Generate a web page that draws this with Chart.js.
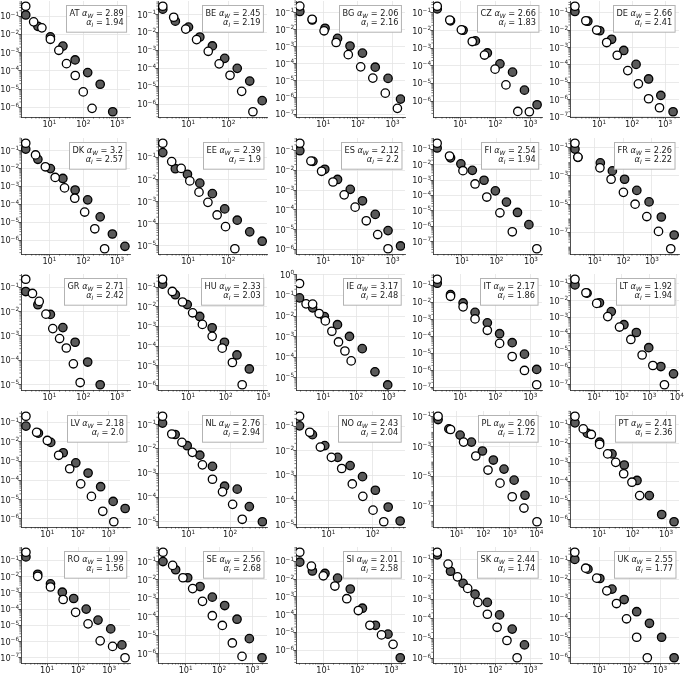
<!DOCTYPE html>
<html><head><meta charset="utf-8">
<script src="https://cdn.jsdelivr.net/npm/chart.js@4.4.1/dist/chart.umd.min.js"></script>
<style>
html,body{margin:0;padding:0;background:#fff;width:685px;height:682px;overflow:hidden}
#wrap{position:relative;width:685px;height:682px;overflow:hidden}
#wrap canvas{position:absolute;display:block}
</style></head><body><div id="wrap"></div>
<script>
const countries = ['AT','BE','BG','CZ','DE','DK','EE','ES','FI','FR','GR','HU','IE','IT','LT','LV','NL','NO','PL','PT','RO','SE','SI','SK','UK'];
const alphaW = ['2.89','2.45','2.06','2.66','2.66','3.2','2.39','2.12','2.54','2.26','2.71','2.33','3.17','2.17','1.92','2.18','2.76','2.43','2.06','2.41','1.99','2.56','2.01','2.44','2.55'];
const alphaI = ['1.94','2.19','2.16','1.83','2.41','2.57','1.9','2.2','1.94','2.22','2.42','2.03','2.48','1.86','1.94','2.0','2.94','2.04','1.72','2.36','1.56','2.68','2.58','1.74','1.77'];
const xLimits = [[1.45,2400],[1.78,912],[1.62,2290],[1.66,2140],[1.32,2630],[1.45,2400],[1.78,912],[1.62,2290],[1.45,2090],[1.34,8900],[1.45,2400],[1.58,1260],[1.45,3160],[1.66,2140],[1.32,12000],[1.38,5000],[1.91,759],[1.86,537],[1.29,16200],[1.32,2450],[1.45,4680],[1.48,2750],[1.58,2510],[1.66,2140],[1.10,4170]];
const yMaxFixed = {IE: 1.1};
const yMinFixed = {BG: 7.1e-8};

const AT_w = [[2.0,3.5e-1],[3.43,4.9e-2],[6.0,2.3e-2],[10.7,5.4e-3],[19,1.35e-3],[32,2.5e-4],[58,5.6e-5],[100,7.1e-6],[182,8.9e-7]];
const AT_g = [[2.0,1.17e-1],[4.57,2.8e-2],[10.7,7.4e-3],[25.1,2.3e-3],[57.5,4.0e-4],[135,8.1e-5],[316,1.86e-5],[741,5.8e-7]];
const BE_w = [[2.34,2.9e-1],[4.37,7.1e-2],[8.7,1.55e-2],[16.2,4.0e-3],[31.6,8.9e-4],[59,1.78e-4],[110,4.1e-5],[214,5.2e-6],[407,3.8e-7]];
const BE_g = [[2.34,2.0e-1],[4.8,4.3e-2],[10.2,2.0e-2],[19.5,5.6e-3],[40,1.78e-3],[81,3.6e-4],[166,1.0e-4],[339,1.95e-5],[692,1.58e-6]];
const BG_w = [[2.09,2.5e-1],[4.73,4.2e-2],[10.5,8.7e-3],[23.4,1.78e-3],[52.5,3.4e-4],[120,6.5e-5],[269,1.41e-5],[617,1.82e-6],[1380,2.3e-7]];
const BG_g = [[2.09,1.2e-1],[4.79,3.8e-2],[11.2,1.23e-2],[25.7,3.1e-3],[59,1.1e-3],[135,4.2e-4],[316,6.2e-5],[741,1.35e-5],[1700,8.1e-7]];
const CZ_w = [[2.19,2.4e-1],[5.0,4.0e-2],[10.7,1.1e-2],[21.9,2.4e-3],[49,4.1e-4],[98,6.5e-5],[200,8.3e-6],[437,2.6e-7],[933,2.5e-7]];
const CZ_g = [[2.19,1.7e-1],[5.25,3.6e-2],[12,1.05e-2],[26.9,2.6e-3],[59,5.4e-4],[135,1.3e-4],[309,4.4e-5],[676,4.2e-6],[1550,6.2e-7]];
const DE_w = [[1.86,2.4e-1],[3.98,3.5e-2],[8.5,1.02e-2],[17,1.95e-3],[35.5,3.6e-4],[74,4.7e-5],[155,8.1e-6],[316,1.12e-6],[676,3.4e-7]];
const DE_g = [[1.86,1.2e-1],[4.57,3.3e-2],[10.5,9.3e-3],[24,3.0e-3],[56,6.8e-4],[132,1.07e-4],[316,1.55e-5],[741,1.74e-6],[1740,2.0e-7]];
const DK_w = [[2.0,2.6e-1],[3.9,5.8e-2],[7.6,1.26e-2],[14.8,3.2e-3],[28,8.3e-4],[56,2.2e-4],[110,3.7e-5],[219,4.3e-6],[427,3.3e-7]];
const DK_g = [[2.0,1.23e-1],[4.57,3.3e-2],[10.7,1.0e-2],[25,2.8e-3],[57.5,6.3e-4],[135,1.78e-4],[316,2.0e-5],[724,2.2e-6],[1700,4.5e-7]];
const EE_w = [[2.34,4.4e-1],[3.9,6.5e-2],[6.7,3.2e-2],[11,8.7e-3],[18.6,2.7e-3],[31,9.3e-4],[52.5,2.5e-4],[85,7.4e-5],[145,7.4e-6]];
const EE_g = [[2.34,1.66e-1],[4.8,3.1e-2],[9.6,1.74e-2],[19.5,6.9e-3],[40,2.3e-3],[81,4.7e-4],[166,1.45e-4],[339,4.3e-5],[692,1.62e-5]];
const ES_w = [[2.09,2.4e-1],[4.37,3.0e-2],[8.9,9.1e-3],[19,2.6e-3],[40,5.8e-4],[83,1.38e-4],[174,2.8e-5],[372,5.6e-6],[741,1.07e-6]];
const ES_g = [[2.09,1.0e-1],[5.0,2.9e-2],[11,1.15e-2],[25.7,3.5e-3],[60,1.1e-3],[135,2.9e-4],[316,5.9e-5],[741,8.9e-6],[1700,1.48e-6]];
const FI_w = [[1.91,2.5e-1],[4.37,3.7e-2],[10.7,4.1e-3],[24,5.6e-4],[52.5,7.9e-5],[126,7.4e-6],[288,4.3e-7],[1480,3.4e-8]];
const FI_g = [[1.91,1.23e-1],[4.68,2.8e-2],[9.3,1.15e-2],[20,4.3e-3],[43.7,9.8e-4],[93,2.0e-4],[195,3.7e-5],[407,7.8e-6],[871,1.26e-6]];
const FR_w = [[2.0,2.1e-1],[2.54,2.2e-2],[15,3.8e-3],[37,5.9e-4],[100,6.9e-5],[257,1.0e-5],[661,1.32e-6],[1700,1.17e-7],[4570,6.9e-9]];
const FR_g = [[2.0,8.1e-2],[2.54,2.1e-2],[15.5,8.5e-3],[41,2.3e-3],[110,5.9e-4],[295,9.5e-5],[794,1.45e-5],[2140,1.23e-6],[6030,6.5e-8]];
const GR_w = [[2.0,2.1e-1],[3.16,5.5e-2],[5.0,2.6e-2],[7.9,7.8e-3],[12.6,2.0e-3],[20,7.8e-4],[31.6,3.2e-4],[51,7.2e-5],[81,1.23e-5]];
const GR_g = [[2.0,6.6e-2],[4.57,1.9e-2],[10.7,7.6e-3],[25,2.2e-3],[57.5,5.5e-4],[135,8.5e-5],[316,1.0e-5]];
const HU_w = [[2.09,2.5e-1],[3.8,6.0e-2],[7.1,1.74e-2],[13.2,4.9e-3],[24,1.26e-3],[43.7,3.1e-4],[81,7.8e-5],[151,1.45e-5],[275,1.07e-6]];
const HU_g = [[2.09,1.41e-1],[4.57,4.1e-2],[9.5,1.29e-2],[20.4,3.2e-3],[43.7,8.5e-4],[93,1.55e-4],[200,3.5e-5],[427,6.8e-6]];
const IE_w = [[1.86,3.8e-1],[2.95,3.9e-2],[4.68,3.8e-2],[7.4,1.32e-2],[11.5,5.8e-3],[18.2,1.82e-3],[29,5.5e-4],[45.7,2.0e-4],[71,6.6e-5]];
const IE_g = [[1.86,7.6e-2],[4.68,2.5e-2],[10.7,9.5e-3],[27,3.8e-3],[63,1.02e-3],[155,2.6e-4],[380,1.95e-5],[933,4.5e-6]];
const IT_w = [[2.19,2.3e-1],[5.25,2.3e-2],[12,5.5e-3],[26.3,1.07e-3],[59,2.3e-4],[132,3.9e-5],[302,6.6e-6],[676,1.0e-6],[1510,1.45e-7]];
const IT_g = [[2.19,1.35e-1],[5.25,2.9e-2],[12,9.3e-3],[26.3,2.6e-3],[59,6.3e-4],[132,1.45e-4],[302,4.3e-5],[676,9.1e-6],[1510,1.15e-6]];
const LT_w = [[2.0,1.9e-1],[5.0,2.95e-2],[12.3,6.8e-3],[31,1.1e-3],[83,2.6e-4],[214,4.7e-5],[550,5.5e-6],[1350,1.29e-6],[3550,9.1e-8]];
const LT_g = [[2.0,8.7e-2],[5.5,2.8e-2],[15.5,7.4e-3],[41.7,2.2e-3],[120,3.6e-4],[339,1.23e-4],[955,1.51e-5],[2630,1.12e-6],[7590,4.1e-7]];
const LV_w = [[2.0,2.1e-1],[4.47,3.1e-2],[10,1.17e-2],[23.4,2.0e-3],[53.7,4.0e-4],[123,6.6e-5],[275,1.48e-5],[646,2.5e-6],[1480,7.2e-7]];
const LV_g = [[2.0,6.5e-2],[5.1,2.8e-2],[12.9,9.3e-3],[33,2.7e-3],[85,8.1e-4],[214,2.4e-4],[550,4.7e-5],[1410,8.1e-6],[3470,3.5e-6]];
const NL_w = [[2.45,2.2e-1],[4.07,4.1e-2],[7.1,1.86e-2],[12.6,7.2e-3],[21.9,2.2e-3],[38,5.6e-4],[66,1.7e-4],[115,5.2e-5],[195,1.26e-5]];
const NL_g = [[2.45,1.15e-1],[4.9,3.9e-2],[9.5,1.35e-2],[19,5.5e-3],[38,1.9e-3],[74,2.9e-4],[148,2.2e-4],[288,4.2e-5],[589,1.0e-5]];
const NO_w = [[2.24,2.5e-1],[3.8,5.6e-2],[6.6,1.41e-2],[11.7,5.4e-3],[20,1.9e-3],[34.7,4.5e-4],[60,1.41e-4],[102,3.9e-5],[178,1.32e-5]];
const NO_g = [[2.24,1.02e-1],[4.37,4.5e-2],[8.3,1.62e-2],[16.2,5.4e-3],[31,2.5e-3],[59,8.9e-4],[115,2.5e-4],[224,5.2e-5],[417,1.41e-5]];
const PL_w = [[2.0,1.1e-1],[5.9,1.41e-2],[18.2,2.0e-3],[52.5,2.3e-4],[151,2.6e-5],[427,3.4e-6],[1230,4.1e-7],[3390,7.1e-8],[10500,8.5e-9]];
const PL_g = [[2.0,6.6e-2],[5.1,1.55e-2],[13.5,5.9e-3],[36,2.0e-3],[93,5.0e-4],[240,1.23e-4],[603,3.0e-5],[1450,5.4e-6],[3720,5.2e-7]];
const PT_w = [[1.86,2.75e-1],[3.3,5.9e-2],[5.75,3.0e-2],[10.2,8.9e-3],[17.8,2.8e-3],[31,1.0e-3],[53.7,2.5e-4],[95,8.9e-5],[162,1.74e-5]];
const PT_g = [[1.86,1.23e-1],[4.37,3.5e-2],[10.2,1.17e-2],[24,2.8e-3],[56,7.2e-4],[135,1.1e-4],[316,1.74e-5],[741,1.74e-6],[1740,7.2e-7]];
const RO_w = [[2.09,3.2e-1],[5.0,1.05e-2],[12.9,2.3e-3],[33,3.9e-4],[83,6.3e-5],[209,1.23e-5],[513,1.1e-6],[1290,5.0e-7],[3240,1.0e-7]];
const RO_g = [[2.09,1.66e-1],[5.0,1.41e-2],[12.9,3.6e-3],[31,1.1e-3],[72,4.5e-4],[182,1.0e-4],[437,2.1e-5],[1120,6.0e-6],[2570,6.2e-7]];
const SE_w = [[2.09,3.2e-1],[4.07,6.2e-2],[8.3,1.32e-2],[16.2,3.4e-3],[32,6.9e-4],[63,1.15e-4],[126,3.4e-5],[251,3.8e-6],[490,7.1e-7]];
const SE_g = [[2.09,1.0e-1],[5.0,3.6e-2],[11.5,1.32e-2],[27,4.4e-3],[63,1.17e-3],[148,4.1e-4],[347,7.4e-5],[813,6.5e-6],[1950,6.0e-7]];
const SI_w = [[2.04,3.3e-1],[4.47,5.5e-2],[10,1.55e-2],[21.9,4.1e-3],[49,7.9e-4],[107,1.7e-4],[234,2.5e-5],[513,7.2e-6],[1120,2.1e-6]];
const SI_g = [[2.04,9.1e-2],[4.79,2.9e-2],[11.2,2.1e-2],[26.3,1.15e-2],[62,2.8e-3],[141,2.3e-4],[339,2.5e-5],[794,7.9e-6],[1820,3.7e-7]];
const SK_w = [[2.19,2.4e-1],[4.47,6.0e-2],[8.3,1.35e-2],[16.2,3.5e-3],[31.6,6.8e-4],[59,1.7e-4],[112,3.7e-5],[214,7.9e-6],[417,1.05e-6]];
const SK_g = [[2.19,1.78e-1],[5.25,2.6e-2],[12,6.3e-3],[26.3,1.78e-3],[59,6.8e-4],[132,1.58e-4],[302,3.0e-5],[676,4.7e-6]];
const UK_w = [[1.58,2.5e-1],[3.6,3.8e-2],[8.3,1.17e-2],[17.8,2.6e-3],[37,5.8e-4],[79,9.5e-5],[170,1.07e-5],[380,9.5e-7]];
const UK_g = [[1.58,1.07e-1],[4.27,3.4e-2],[10.5,1.12e-2],[26.3,3.2e-3],[66,9.3e-4],[170,2.2e-4],[447,5.6e-5],[1120,1.07e-5],[2880,9.5e-7]];

const whiteSeries = [AT_w,BE_w,BG_w,CZ_w,DE_w,DK_w,EE_w,ES_w,FI_w,FR_w,GR_w,HU_w,IE_w,IT_w,LT_w,LV_w,NL_w,NO_w,PL_w,PT_w,RO_w,SE_w,SI_w,SK_w,UK_w];
const graySeries = [AT_g,BE_g,BG_g,CZ_g,DE_g,DK_g,EE_g,ES_g,FI_g,FR_g,GR_g,HU_g,IE_g,IT_g,LT_g,LV_g,NL_g,NO_g,PL_g,PT_g,RO_g,SE_g,SI_g,SK_g,UK_g];

const FONT = '"DejaVu Sans", sans-serif';
const TICK_FS = 8.2, EXP_FS = 5.7, BOX_FS = 8.2;
const SUP = {'0':'\u2070','1':'\u00b9','2':'\u00b2','3':'\u00b3','4':'\u2074','5':'\u2075','6':'\u2076','7':'\u2077','8':'\u2078','9':'\u2079','-':'\u207b'};
function powLabel(v){ const e = Math.round(Math.log10(v)); return '10' + String(e).split('').map(c => SUP[c]).join(''); }
function decadeTicks(min, max, allowStride){
  const lo = Math.ceil(Math.log10(min) - 1e-9), hi = Math.floor(Math.log10(max) + 1e-9);
  const stride = (allowStride && hi - lo + 1 > 7) ? 2 : 1;
  const out = [];
  for (let e = lo; e <= hi; e++) { if (stride === 2 && Math.abs(e) % 2 === 0) continue; out.push({value: Math.pow(10, e)}); }
  return out;
}
function autoLim(vals){
  const l = vals.map(v => Math.log10(v));
  const mn = Math.min(...l), mx = Math.max(...l), pad = 0.05 * (mx - mn);
  return [Math.pow(10, mn - pad), Math.pow(10, mx + pad)];
}

// draws the scale's tick labels as "10" with a raised, smaller exponent (mathtext style)
const mathTicks = {
  id: 'mathTicks',
  afterDraw(chart) {
    const ctx = chart.ctx, a = chart.chartArea;
    const fB = TICK_FS + 'px ' + FONT, fE = EXP_FS + 'px ' + FONT;
    ctx.save(); ctx.fillStyle = '#1a1a1a'; ctx.textAlign = 'left'; ctx.textBaseline = 'alphabetic';
    const draw = (v, x, base, mode) => {
      const e = Math.round(Math.log10(v));
      const es = (e < 0 ? '\u2212' : '') + Math.abs(e);
      ctx.font = fB; const wb = ctx.measureText('10').width;
      ctx.font = fE; const we = ctx.measureText(es).width;
      const x0 = mode === 'right' ? x - wb - we : x - (wb + we) / 2;
      ctx.font = fB; ctx.fillText('10', x0, base);
      ctx.font = fE; ctx.fillText(es, x0 + wb, base - 3.5);
    };
    const ys = chart.scales.y, xs = chart.scales.x;
    ys.ticks.forEach(t => draw(t.value, a.left - 2.0, ys.getPixelForValue(t.value) + 3.0, 'right'));
    xs.ticks.forEach(t => draw(t.value, xs.getPixelForValue(t.value), a.bottom + 10, 'center'));
    ctx.restore();
  }
};

const alphaBox = {
  id: 'alphaBox',
  afterDraw(chart, args, o) {
    const ctx = chart.ctx, a = chart.chartArea;
    const fN = BOX_FS + 'px ' + FONT, fI = 'italic ' + BOX_FS + 'px ' + FONT, fS = 'italic ' + (BOX_FS * 0.72).toFixed(2) + 'px ' + FONT;
    const l1 = [[o.code + ' ', fN, 0], ['\u03b1', fI, 0], ['W', fS, 2], [' = ' + o.aw, fN, 0]];
    const l2 = [['\u03b1', fI, 0], ['I', fS, 2], [' = ' + o.ai, fN, 0]];
    const width = parts => parts.reduce((s, p) => { ctx.font = p[1]; return s + ctx.measureText(p[0]).width; }, 0);
    ctx.save();
    const w1 = width(l1), w2 = width(l2), tw = Math.max(w1, w2);
    const pad = 3, lh = 9.6;
    const bw = tw + 2 * pad, bh = 2 * lh + 2 * pad + 1.5;
    const bx = Math.round(a.right - 4 - bw) + 0.5, by = Math.round(a.top + 4) + 0.5;
    ctx.fillStyle = '#ffffff'; ctx.strokeStyle = '#b3b3b3'; ctx.lineWidth = 1;
    ctx.fillRect(bx, by, bw, bh); ctx.strokeRect(bx, by, bw, bh);
    ctx.fillStyle = '#1a1a1a'; ctx.textBaseline = 'alphabetic'; ctx.textAlign = 'left';
    const right = bx + bw - pad;
    [[l1, w1, by + pad + 7.2], [l2, w2, by + pad + 7.2 + lh]].forEach(([parts, w, base]) => {
      let x = right - w;
      parts.forEach(p => { ctx.font = p[1]; ctx.fillText(p[0], x, base + p[2]); x += ctx.measureText(p[0]).width; });
    });
    ctx.restore();
  }
};

const minorTicks = {
  id: 'minorTicks',
  afterDraw(chart) {
    const ctx = chart.ctx, a = chart.chartArea, xs = chart.scales.x, ys = chart.scales.y;
    ctx.save(); ctx.strokeStyle = '#222'; ctx.lineWidth = 0.6; ctx.beginPath();
    const each = (sc, fn) => {
      const lo = Math.floor(Math.log10(sc.min)), hi = Math.ceil(Math.log10(sc.max));
      for (let e = lo; e <= hi; e++) for (let m = 2; m <= 9; m++) {
        const v = m * Math.pow(10, e);
        if (v > sc.min && v < sc.max) fn(sc.getPixelForValue(v));
      }
    };
    each(ys, p => { ctx.moveTo(a.left, p); ctx.lineTo(a.left - 1.6, p); });
    each(xs, p => { ctx.moveTo(p, a.bottom); ctx.lineTo(p, a.bottom + 1.6); });
    ctx.stroke(); ctx.restore();
  }
};

function axisOpts(min, max, isY) {
  return {
    type: 'logarithmic', min, max,
    afterBuildTicks: s => { s.ticks = decadeTicks(min, max, isY); },
    afterFit: s => { if (isY) s.width = 21; else s.height = 19; },
    ticks: { display: false, callback: v => powLabel(v), maxRotation: 0, autoSkip: false },
    grid: { color: '#e4e4e4', lineWidth: 0.8, drawTicks: true, tickLength: 2.6, tickColor: '#222', tickWidth: 0.8 },
    border: { display: true, color: '#222', width: 0.8 }
  };
}

const wrap = document.getElementById('wrap');
countries.forEach((code, i) => {
  const r = Math.floor(i / 5), c = i % 5;
  const plotLeft = 21 + 137.25 * c, plotTop = 1 + 136.5 * r;
  const cv = document.createElement('canvas');
  cv.width = 151; cv.height = 147;
  cv.style.left = Math.round(plotLeft - 30) + 'px';
  cv.style.top = Math.round(plotTop - 8) + 'px';
  wrap.appendChild(cv);
  const w = whiteSeries[i], g = graySeries[i];
  const yl = autoLim(w.concat(g).map(p => p[1]));
  if (yMaxFixed[code]) yl[1] = yMaxFixed[code];
  if (yMinFixed[code]) yl[0] = yMinFixed[code];
  new Chart(cv, {
    type: 'scatter',
    data: { datasets: [
      { label: code + ' white', data: w.map(p => ({x: p[0], y: p[1]})), pointRadius: 4.2, pointHoverRadius: 4.2, backgroundColor: '#ffffff', borderColor: '#000000', borderWidth: 1.3 },
      { label: code + ' grey', data: g.map(p => ({x: p[0], y: p[1]})), pointRadius: 4.2, pointHoverRadius: 4.2, backgroundColor: '#5a5a5a', borderColor: '#000000', borderWidth: 1.3 }
    ]},
    options: {
      responsive: false, animation: false, events: [],
      layout: { padding: { left: 9, top: 8, right: 12, bottom: 4 } },
      plugins: { legend: { display: false }, tooltip: { enabled: false }, alphaBox: { code, aw: alphaW[i], ai: alphaI[i] } },
      scales: { x: axisOpts(xLimits[i][0], xLimits[i][1], false), y: axisOpts(yl[0], yl[1], true) }
    },
    plugins: [mathTicks, alphaBox, minorTicks]
  });
});
</script>
</body></html>
